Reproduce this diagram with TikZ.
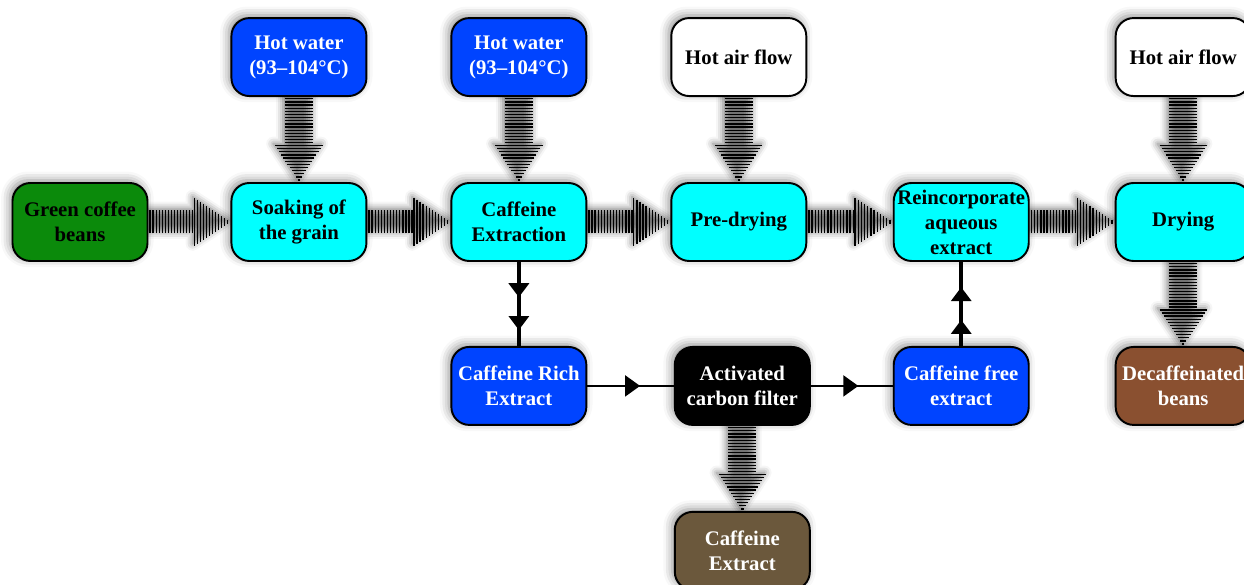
\documentclass[tikz,border=0pt]{standalone}
\usepackage{fontspec}
\setmainfont{Liberation Serif}
\usetikzlibrary{positioning, calc, arrows.meta, decorations.markings, shadows.blur, backgrounds}

\definecolor{beangreen}{HTML}{0B8A0B}
\definecolor{aqua}{HTML}{00FFFF}
\definecolor{waterblue}{HTML}{0044FF}
\definecolor{roast}{HTML}{8A5030}
\definecolor{spentbrown}{HTML}{6B583C}

\tikzset{
every node/.style = {font = \fontsize{11.8pt}{14.2pt}\selectfont\bfseries},
stage/.style = {rectangle, draw, line width = 1.1pt, rounded corners = 0.36cm, 
	minimum width = 2.7cm, minimum height = 1.56cm, align = center, inner sep = 1pt,
	blur shadow = {shadow xshift = -1.5pt, shadow yshift = 1.5pt, shadow blur radius = 5pt, 
	shadow opacity = 45}},
seed/.style = {stage, fill = beangreen},
process/.style = {stage, fill = aqua},
source/.style = {stage, fill = waterblue, text = white},
air/.style = {stage, fill = white},
filter/.style = {stage, fill = black, text = white},
roasted/.style = {stage, fill = roast, text = white},
spent/.style = {stage, fill = spentbrown, text = white},
stripe/.style = {line width = 0.75pt},
haze/.style = {blur shadow = {shadow xshift = -1pt, shadow yshift = 1pt, 
	shadow blur radius = 4pt, shadow opacity = 55}},
flowv/.style = {line width = 2.4pt},
flowh/.style = {line width = 1.1pt},
tip/.style = {decoration = {markings, mark = at position #1 with 
	{\arrow{Triangle[length = 0.3cm, width = 0.42cm, fill = black]}}}, postaction = decorate},
twotips/.style 2 args = {decoration = {markings, 
	mark = at position #1 with {\arrow{Triangle[length = 0.28cm, width = 0.4cm, fill = black]}},
	mark = at position #2 with {\arrow{Triangle[length = 0.28cm, width = 0.4cm, fill = black]}}}, 
	postaction = decorate}
}

% striped arrow, left to right
\newcommand\hatchright[2]{%
  \begin{pgfonlayer}{background}
  \path [haze] let \p1 = (#1.east), \p2 = (#2.west), \n1 = {\x2-\x1} in
    (\x1,\y1+0.23cm) -- (\x1+0.56*\n1,\y1+0.23cm) -- (\x1+0.56*\n1,\y1+0.47cm) 
    -- (\x2,\y1) -- (\x1+0.56*\n1,\y1-0.47cm) -- (\x1+0.56*\n1,\y1-0.23cm) 
    -- (\x1,\y1-0.23cm) -- cycle;
  \end{pgfonlayer}
  \foreach \t in {0.02,0.057,...,0.55}
    \draw [stripe] ($(#1.east)!\t!(#2.west)$) +(0,-0.23) -- +(0,0.23);
  \foreach \t in {0.56,0.597,...,0.99}
    \draw [stripe] ($(#1.east)!\t!(#2.west)$) +(0,{-1.07*(1-\t)}) -- +(0,{1.07*(1-\t)});
}

% striped arrow, top to bottom
\newcommand\hatchdown[2]{%
  \begin{pgfonlayer}{background}
  \path [haze] let \p1 = (#1.south), \p2 = (#2.north), \n1 = {\y1-\y2} in
    (\x1-0.28cm,\y1) -- (\x1-0.28cm,\y1-0.57*\n1) -- (\x1-0.48cm,\y1-0.57*\n1) 
    -- (\x1,\y2) -- (\x1+0.48cm,\y1-0.57*\n1) -- (\x1+0.28cm,\y1-0.57*\n1) 
    -- (\x1+0.28cm,\y1) -- cycle;
  \end{pgfonlayer}
  \foreach \t in {0.02,0.057,...,0.56}
    \draw [stripe] ($(#1.south)!\t!(#2.north)$) +(-0.28,0) -- +(0.28,0);
  \foreach \t in {0.57,0.607,...,0.99}
    \draw [stripe] ($(#1.south)!\t!(#2.north)$) +({-1.1*(1-\t)},0) -- +({1.1*(1-\t)},0);
}

\begin{document}
\begin{tikzpicture}
\useasboundingbox (-1.6,-7.26) rectangle (23.28,4.44);

%% The main line
\node [seed] (green) at (0,0) {Green coffee\\beans};
\node [process] (soak) [right = 1.64cm of green] {Soaking of\\the grain};
\node [process] (extr) [right = 1.66cm of soak] {Caffeine\\Extraction};
\node [process] (predry) [right = 1.66cm of extr] {Pre-drying};
\node [process] (reinc) [right = 1.71cm of predry] {Reincorporate\\aqueous\\extract};
\node [process] (dry) [right = 1.70cm of reinc] {Drying};

%% The inputs
\node [source] (water1) [above = 1.7cm of soak] {Hot water\\(93–104°C)};
\node [source] (water2) [above = 1.7cm of extr] {Hot water\\(93–104°C)};
\node [air] (air1) [above = 1.7cm of predry] {Hot air flow};
\node [air] (air2) [above = 1.7cm of dry] {Hot air flow};

%% The extract loop and the products
\node [source] (rich) [below = 1.68cm of extr] {Caffeine Rich\\Extract};
\node [filter] (carbon) [below = 1.68cm of predry, xshift = 0.07cm] {Activated\\carbon filter};
\node [source] (free) [below = 1.68cm of reinc] {Caffeine free\\extract};
\node [roasted] (decaf) [below = 1.68cm of dry] {Decaffeinated\\beans};
\node [spent] (caff) [below = 1.7cm of carbon] {Caffeine\\Extract};

%% The striped flows
\hatchright{green}{soak}
\hatchright{soak}{extr}
\hatchright{extr}{predry}
\hatchright{predry}{reinc}
\hatchright{reinc}{dry}
\hatchdown{water1}{soak}
\hatchdown{water2}{extr}
\hatchdown{air1}{predry}
\hatchdown{air2}{dry}
\hatchdown{dry}{decaf}
\hatchdown{carbon}{caff}

%% The plain flows
\draw [flowv, twotips = {0.42}{0.81}] (extr) -- (rich);
\draw [flowh, tip = 0.61] (rich) -- (carbon);
\draw [flowh, tip = 0.58] (carbon) -- (free);
\draw [flowv, twotips = {0.31}{0.70}] (free) -- (reinc);

\end{tikzpicture}
\end{document}
